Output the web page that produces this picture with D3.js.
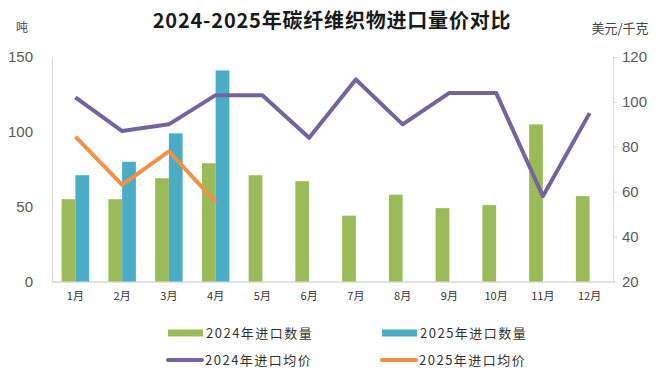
<!DOCTYPE html>
<html>
<head>
<meta charset="utf-8">
<script src="https://cdn.jsdelivr.net/npm/d3@7"></script>
<style>
  body { margin: 0; background: #fff; }
  svg { display: block; }
</style>
</head>
<body>
<svg id="chart" width="671" height="388"></svg>
<script>
// values
const months = ['1月', '2月', '3月', '4月', '5月', '6月', '7月', '8月', '9月', '10月', '11月', '12月']
const qty2024 = [55, 55, 69, 79, 71, 67, 44, 58, 49, 51, 105, 57]
const qty2025 = [71, 80, 99, 141]
const price2024 = [102, 87, 90, 103, 103, 84, 110, 90, 104, 104, 58, 95]
const price2025 = [84.5, 63, 78, 55.5]
const leftTicks = [0, 50, 100, 150]
const rightTicks = [20, 40, 60, 80, 100, 120]

const colors = { q24: '#9bbb59', q25: '#4bacc6', p24: '#7563a0', p25: '#f0914a' }
const numFont = "'Liberation Sans', Arial, sans-serif"
const cjkFont = "'Noto Sans CJK SC', sans-serif"

const svg = d3.select('#chart')
const plotL = 52, plotR = 613, plotT = 57, plotB = 281.5

const x = d3.scaleBand().domain(months).range([plotL, plotR])
const xs = d3.scaleBand().domain(['2024', '2025']).range([0, x.bandwidth()]).paddingInner(0).paddingOuter(0.7)
const yL = d3.scaleLinear().domain([0, 150]).range([plotB, plotT])
const yR = d3.scaleLinear().domain([20, 120]).range([plotB, plotT])

// title and units
svg.append('text')
  .attr('x', 332).attr('y', 28)
  .attr('text-anchor', 'middle')
  .attr('font-family', cjkFont).attr('font-weight', 'bold')
  .attr('font-size', 20).attr('letter-spacing', 0.8).attr('fill', '#1a1a1a')
  .text('2024-2025年碳纤维织物进口量价对比')
svg.append('text')
  .attr('x', 22).attr('y', 32).attr('text-anchor', 'middle')
  .attr('font-family', cjkFont).attr('font-size', 12).attr('fill', '#444')
  .text('吨')
svg.append('text')
  .attr('x', 620).attr('y', 33).attr('text-anchor', 'middle')
  .attr('font-family', cjkFont).attr('font-size', 13).attr('fill', '#444')
  .text('美元/千克')

// left axis
const gL = svg.append('g')
  .attr('transform', `translate(${plotL},0)`)
  .call(d3.axisLeft(yL).tickValues(leftTicks).tickSize(0).tickPadding(19))
gL.select('.domain').attr('stroke', '#d9d9d9')
gL.selectAll('text').attr('font-family', numFont).attr('font-size', 15).attr('fill', '#595959')

// right axis
const gR = svg.append('g')
  .attr('transform', `translate(${plotR},0)`)
  .call(d3.axisRight(yR).tickValues(rightTicks).tickSize(4).tickSizeOuter(0).tickPadding(5))
gR.select('.domain').attr('stroke', '#d9d9d9')
gR.selectAll('line').attr('stroke', '#d9d9d9')
gR.selectAll('text').attr('font-family', numFont).attr('font-size', 15).attr('fill', '#595959')

// bottom axis
const gB = svg.append('g')
  .attr('transform', `translate(0,${plotB})`)
  .call(d3.axisBottom(x).tickSize(0).tickPadding(11))
gB.select('.domain').attr('stroke', '#d9d9d9').attr('stroke-width', 1.5)
gB.selectAll('text').attr('font-family', cjkFont).attr('font-size', 11).attr('fill', '#333')

// bars
svg.append('g').selectAll('rect')
  .data(qty2024)
  .join('rect')
    .attr('x', (d, i) => x(months[i]) + xs('2024'))
    .attr('y', d => yL(d))
    .attr('width', xs.bandwidth())
    .attr('height', d => plotB - yL(d))
    .attr('fill', colors.q24)

svg.append('g').selectAll('rect')
  .data(qty2025)
  .join('rect')
    .attr('x', (d, i) => x(months[i]) + xs('2025'))
    .attr('y', d => yL(d))
    .attr('width', xs.bandwidth())
    .attr('height', d => plotB - yL(d))
    .attr('fill', colors.q25)

// lines
const line = d3.line()
  .x((d, i) => x(months[i]) + x.bandwidth() / 2)
  .y(d => yR(d))

svg.append('path')
  .datum(price2024)
  .attr('d', line)
  .attr('fill', 'none')
  .attr('stroke', colors.p24)
  .attr('stroke-width', 4)
  .attr('stroke-linejoin', 'round')

svg.append('path')
  .datum(price2025)
  .attr('d', line)
  .attr('fill', 'none')
  .attr('stroke', colors.p25)
  .attr('stroke-width', 4)
  .attr('stroke-linejoin', 'round')

// legend
const legend = [
  { label: '2024年进口数量', color: colors.q24, type: 'bar', x: 168, y: 333 },
  { label: '2025年进口数量', color: colors.q25, type: 'bar', x: 382, y: 333 },
  { label: '2024年进口均价', color: colors.p24, type: 'line', x: 166, y: 360 },
  { label: '2025年进口均价', color: colors.p25, type: 'line', x: 380, y: 360 }
]
const lg = svg.append('g').selectAll('g')
  .data(legend)
  .join('g')
    .attr('transform', d => `translate(${d.x},${d.y})`)
lg.append('rect')
  .attr('x', 0)
  .attr('y', d => d.type === 'bar' ? -3.5 : -2)
  .attr('width', d => d.type === 'bar' ? 35 : 38)
  .attr('height', d => d.type === 'bar' ? 7 : 4)
  .attr('rx', d => d.type === 'bar' ? 0 : 2)
  .attr('fill', d => d.color)
lg.append('text')
  .attr('x', d => d.type === 'bar' ? 38 : 39)
  .attr('dy', '0.35em')
  .attr('font-family', cjkFont).attr('font-size', 13)
  .attr('letter-spacing', 1.5)
  .attr('fill', '#333')
  .text(d => d.label)
</script>
</body>
</html>
